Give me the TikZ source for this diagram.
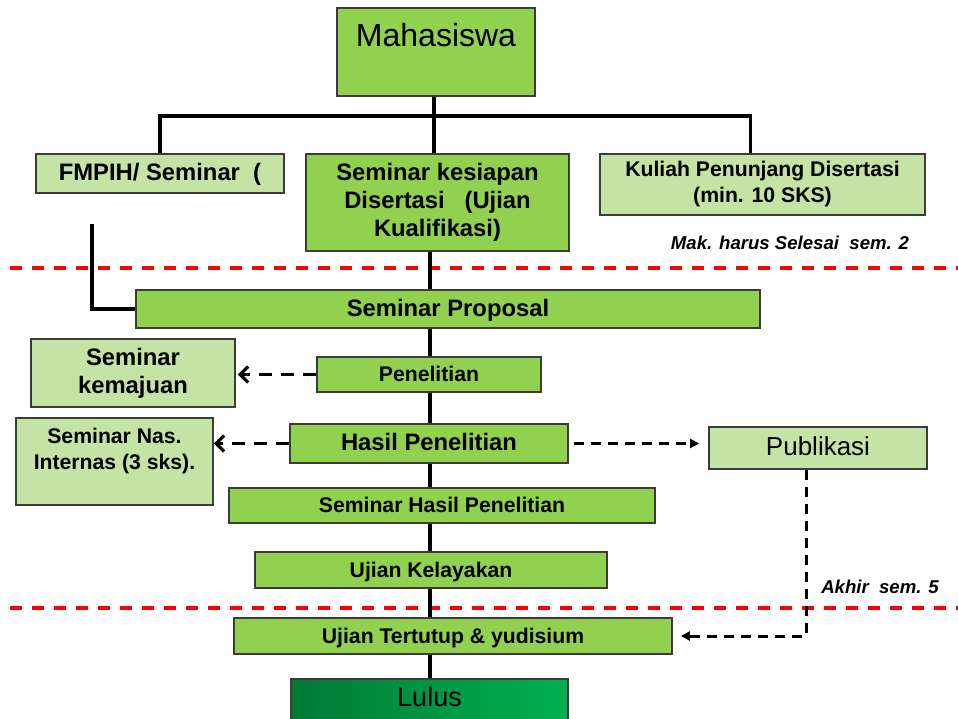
\documentclass[tikz,border=0pt]{standalone}
\usepackage{fontspec}
\setmainfont{Liberation Sans}
\usetikzlibrary{arrows.meta,calc}
\definecolor{hijau}{HTML}{92D050}
\definecolor{hijaumuda}{HTML}{C5E3A5}
\definecolor{hijautua}{HTML}{007A35}
\definecolor{hijaucerah}{HTML}{00B050}
\definecolor{garis}{HTML}{3C3C3C}
\newcommand{\besar}{\fontsize{11.9}{14}\selectfont\bfseries}
\newcommand{\kecil}{\fontsize{10.6}{13}\selectfont\bfseries}
\begin{document}
\begin{tikzpicture}[x=0.5pt,y=-0.5pt]
    \tikzset{
        kotak/.style={draw=garis, line width=0.9pt, fill=hijau, align=center, inner sep=0pt},
        muda/.style={kotak, fill=hijaumuda},
        satu/.style={text height=0.72em, text depth=0pt},
        batang/.style={line width=1.7pt},
        putus/.style={line width=1.6pt, dash pattern=on 6.5pt off 4.5pt},
        putuskecil/.style={line width=1.5pt, dash pattern=on 5pt off 3.5pt},
        batas/.style={red, line width=1.6pt, dash pattern=on 6pt off 5pt},
        catatan/.style={font=\fontsize{9.3}{11}\selectfont\bfseries\itshape},
        barb/.style={-{Straight Barb[length=4pt,width=8pt]}},
        segitiga/.style={-{Triangle[length=4.5pt,width=4.5pt]}},
    }
    \useasboundingbox (0,0) rectangle (958,718);
    \draw[batas] (10,268) -- (958,268);
    \draw[batas] (10,608) -- (958,608);
    % baris atas
    \node[kotak, minimum width=99pt, text height=19pt, text depth=25pt, font=\fontsize{16}{19}\selectfont] (mhs) at (436,52) {Mahasiswa};
    \node[muda, satu, minimum width=124pt, minimum height=19.5pt, font=\besar] (fmpih) at (160,173.5) {FMPIH/ Seminar\ \ (};
    \node[kotak, minimum width=131.5pt, minimum height=48.5pt, font=\besar] (kes) at (437.5,202.5) {Seminar kesiapan\\Disertasi\ \ \ (Ujian\\Kualifikasi)};
    \node[muda, minimum width=162.5pt, minimum height=30.5pt, font=\kecil] (kul) at (762.5,184.5) {Kuliah Penunjang Disertasi\\(min. 10 SKS)};
    \node[catatan] (mak) at (790,243) {Mak. harus Selesai\ \ sem. 2};
    \coordinate (cabang) at (434,116);
    \draw[batang] (mhs.south -| cabang) -- (kes.north -| cabang);
    \draw[batang] (fmpih.north) |- (cabang) -| ([xshift=-6pt]kul.north);
    % alur utama
    \coordinate (tulang) at (430,0);
    \node[kotak, satu, minimum width=312pt, minimum height=19pt, font=\besar] (prop) at (448,309) {Seminar Proposal};
    \node[kotak, satu, minimum width=112pt, minimum height=17.5pt, font=\kecil] (pen) at (429,374.5) {Penelitian};
    \node[muda, minimum width=102pt, minimum height=34pt, font=\besar] (kem) at (133,373) {Seminar\\kemajuan};
    \node[kotak, satu, minimum width=139pt, minimum height=19.5pt, font=\besar] (hasil) at (429,443.5) {Hasil Penelitian};
    \node[muda, minimum width=98.5pt, minimum height=43.5pt, font=\kecil] (nas) at (114.5,461.5) {Seminar Nas.\\Internas (3 sks).\\~};
    \node[muda, satu, minimum width=109pt, minimum height=21pt, font=\fontsize{13}{15}\selectfont] (pub) at (818,448) {Publikasi};
    \node[kotak, satu, minimum width=213pt, minimum height=17.5pt, font=\kecil] (semhas) at (442,505.5) {Seminar Hasil Penelitian};
    \node[kotak, satu, minimum width=176pt, minimum height=18pt, font=\kecil] (kel) at (431,570) {Ujian Kelayakan};
    \node[kotak, satu, minimum width=219pt, minimum height=18pt, font=\kecil] (tutup) at (453,636) {Ujian Tertutup \& yudisium};
    \node[kotak, satu, left color=hijautua, right color=hijaucerah, minimum width=138.5pt, minimum height=20.5pt, font=\fontsize{13.5}{16}\selectfont] (lulus) at (429.5,699.5) {Lulus};
    \node[catatan] (akhir) at (880,587) {Akhir\ \ sem. 5};
    \foreach \a/\b in {kes/prop, prop/pen, pen/hasil, hasil/semhas, semhas/kel, kel/tutup, tutup/lulus}
        \draw[batang] (\a.south -| tulang) -- (\b.north -| tulang);
    \coordinate (fmujung) at (92,224);
    \draw[batang] (fmujung) |- (prop.west);
    % panah putus-putus
    \draw[putus, barb, shorten >=1pt] (pen.west) -- (kem.east |- pen.west);
    \draw[putus, barb] (hasil.west) -- (nas.east |- hasil.west);
    \draw[putuskecil, segitiga, shorten <=2.5pt, shorten >=4.5pt] (hasil.east) -- (pub.west |- hasil.east);
    \draw[putuskecil, segitiga, shorten >=4pt] ([xshift=-6pt]pub.south) |- (tutup.east);
\end{tikzpicture}
\end{document}
